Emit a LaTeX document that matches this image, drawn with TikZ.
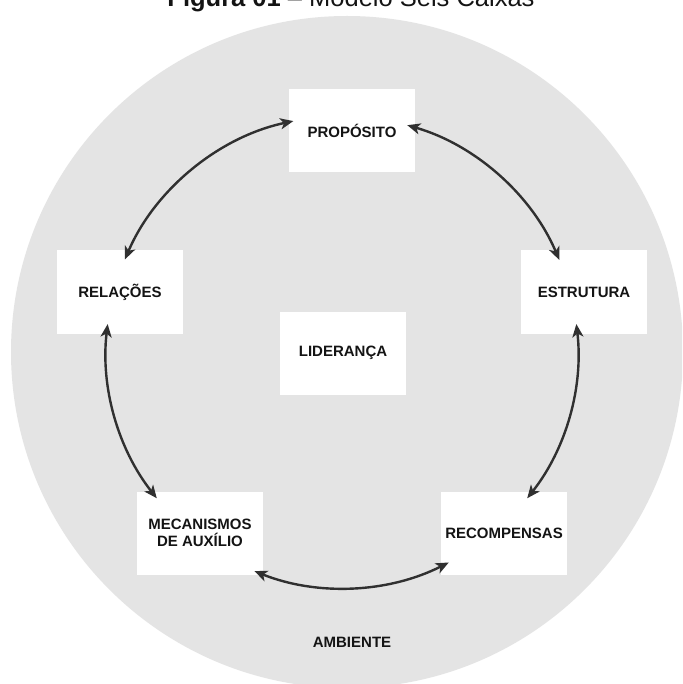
\documentclass[tikz,border=0pt]{standalone}
\usepackage{fontspec}
\setmainfont{Liberation Sans}
\usetikzlibrary{arrows.meta,calc}
\definecolor{bggray}{HTML}{E4E4E4}
\definecolor{arrowgray}{HTML}{303030}
\definecolor{txt}{HTML}{141414}
\begin{document}
\begin{tikzpicture}[x=1pt,y=-1pt,
  caixa/.style={fill=white, minimum width=126pt, minimum height=83pt, inner sep=0pt,
    align=center, font=\fontsize{15}{17}\selectfont\bfseries, text=txt},
  seta/.style={draw=arrowgray, line width=2.4pt, looseness=0.89,
    {Stealth[length=13pt,width=11pt,inset=3.5pt]}-{Stealth[length=13pt,width=11pt,inset=3.5pt]}}]
\useasboundingbox (0,0) rectangle (682,684);
\clip (0,0) rectangle (682,684);
\fill[white] (0,0) rectangle (682,684);
\fill[bggray] (347,352) circle[radius=336];
\node[anchor=base, font=\fontsize{25.5}{28}\selectfont, text=txt, inner sep=0pt] (titulo) at (351,7) {\textbf{Figura 01} – Modelo Seis Caixas};

\node[caixa] (proposito) at (352,131) {PROPÓSITO};
\node[caixa] (relacoes) at (120,292) {RELAÇÕES};
\node[caixa] (estrutura) at (584,292) {ESTRUTURA};
\node[caixa] (lideranca) at (343,353) {LIDERANÇA};
\node[caixa] (mecanismos) at (200,533) {MECANISMOS\\DE AUXÍLIO};
\node[caixa] (recompensas) at (504,533) {RECOMPENSAS};
\node[font=\fontsize{15}{17}\selectfont\bfseries, text=txt, inner sep=0pt] (ambiente) at (352,642) {AMBIENTE};

% y axis points down, so polar angles are mirrored (negative = upward)
\coordinate (c) at (342,352);
\coordinate (pR) at ($(c)+(-101.9:236)$);
\coordinate (rP) at ($(c)+(-156.9:236)$);
\coordinate (pE) at ($(c)+(-73.95:236)$);
\coordinate (eP) at ($(c)+(-22.97:236)$);
\coordinate (eRc) at ($(c)+(-6.8:236)$);
\coordinate (rcE) at ($(c)+(38.3:236)$);
\coordinate (rcM) at ($(c)+(63.1:236)$);
\coordinate (mRc) at ($(c)+(111.8:236)$);
\coordinate (mR) at ($(c)+(-218.3:236)$);
\coordinate (rM) at ($(c)+(-173.2:236)$);

\draw[seta] (pR) to[bend right=27.5] (rP);
\draw[seta] (eP) to[bend right=25.5] (pE);
\draw[seta] (rcE) to[bend right=22.55] (eRc);
\draw[seta] (mRc) to[bend right=24.35] (rcM);
\draw[seta] (rM) to[bend right=22.55] (mR);
\end{tikzpicture}
\end{document}
